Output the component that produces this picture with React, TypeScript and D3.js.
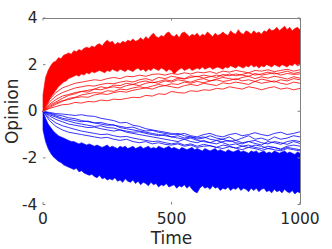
import React from 'react';
import * as d3 from 'd3';

const timeTicks = [0, 500, 1000];
const opinionTicks = [-4, -2, 0, 2, 4];

// envelope of the dense bundles, sampled every 10 time steps
const bandTime = d3.range(0, 1001, 10);

const redOuter = [
	0.7, 1.45, 1.75, 1.95, 2.1, 2.15, 2.3, 2.25, 2.4, 2.45, 2.5, 2.45, 2.6, 2.55, 2.65, 2.6, 2.7, 2.75, 2.7, 2.8,
	2.75, 2.85, 2.9, 2.8, 2.95, 3.05, 2.95, 3.0, 2.85, 2.95, 2.9, 3.0, 2.95, 3.05, 3.0, 3.1, 3.0, 3.05, 3.15, 3.05,
	3.2, 3.1, 3.25, 3.35, 3.2, 3.15, 3.25, 3.2, 3.35, 3.4, 3.25, 3.2, 3.3, 3.15, 3.35, 3.4, 3.3, 3.2, 3.3, 3.25,
	3.35, 3.2, 3.3, 3.25, 3.4, 3.3, 3.2, 3.35, 3.25, 3.3, 3.4, 3.3, 3.25, 3.45, 3.35, 3.3, 3.5, 3.35, 3.3, 3.45,
	3.4, 3.3, 3.45, 3.35, 3.4, 3.3, 3.45, 3.4, 3.55, 3.45, 3.5, 3.6, 3.45, 3.55, 3.65, 3.5, 3.6, 3.45, 3.55, 3.6,
	3.5
];
const redInner = [
	0, 0.2, 0.4, 0.6, 0.75, 0.9, 1.05, 1.15, 1.25, 1.3, 1.4, 1.45, 1.5, 1.55, 1.5, 1.6, 1.55, 1.65, 1.6, 1.7,
	1.65, 1.7, 1.75, 1.7, 1.65, 1.75, 1.7, 1.8, 1.75, 1.7, 1.8, 1.75, 1.7, 1.8, 1.75, 1.7, 1.8, 1.85, 1.75, 1.8,
	1.7, 1.8, 1.75, 1.85, 1.8, 1.75, 1.85, 1.8, 1.7, 1.8, 1.75, 1.6, 1.7, 1.8, 1.85, 1.75, 1.8, 1.85, 1.75, 1.8,
	1.85, 1.8, 1.9, 1.8, 1.85, 1.9, 1.8, 1.85, 1.9, 1.85, 1.8, 1.9, 1.85, 1.95, 1.9, 1.85, 1.95, 1.9, 1.85, 1.95,
	1.9, 2.0, 1.9, 1.95, 1.85, 1.95, 1.9, 2.0, 1.95, 1.9, 2.0, 1.95, 1.9, 2.0, 1.95, 1.9, 2.0, 1.95, 2.05, 1.95,
	2.0
];
const blueOuter = [
	-0.8, -1.3, -1.6, -1.8, -1.95, -2.05, -2.15, -2.2, -2.3, -2.35, -2.4, -2.45, -2.5, -2.45, -2.6, -2.55, -2.65, -2.7, -2.75, -2.7,
	-2.8, -2.85, -2.75, -2.9, -2.85, -2.95, -2.9, -2.95, -2.85, -3.0, -2.95, -3.05, -2.9, -3.0, -3.05, -2.95, -3.1, -3.0, -3.15, -3.05,
	-3.1, -3.2, -3.05, -3.15, -3.1, -3.25, -3.15, -3.2, -3.1, -3.25, -3.2, -3.15, -3.3, -3.2, -3.25, -3.15, -3.3, -3.2, -3.35, -3.45,
	-3.5, -3.3, -3.2, -3.3, -3.25, -3.35, -3.2, -3.3, -3.25, -3.4, -3.3, -3.35, -3.25, -3.4, -3.3, -3.35, -3.25, -3.4, -3.3, -3.35,
	-3.45, -3.3, -3.4, -3.3, -3.45, -3.35, -3.3, -3.45, -3.4, -3.5, -3.35, -3.45, -3.4, -3.5, -3.35, -3.45, -3.5, -3.4, -3.55, -3.45,
	-3.5
];
const blueInner = [
	0, -0.3, -0.55, -0.7, -0.85, -0.95, -1.05, -1.1, -1.15, -1.2, -1.25, -1.3, -1.3, -1.35, -1.4, -1.35, -1.4, -1.45, -1.4, -1.45,
	-1.5, -1.45, -1.5, -1.55, -1.5, -1.45, -1.55, -1.5, -1.55, -1.6, -1.5, -1.55, -1.5, -1.6, -1.55, -1.5, -1.6, -1.55, -1.5, -1.6,
	-1.55, -1.5, -1.6, -1.55, -1.6, -1.5, -1.55, -1.6, -1.55, -1.5, -1.6, -1.55, -1.6, -1.65, -1.55, -1.6, -1.65, -1.6, -1.55, -1.65,
	-1.6, -1.65, -1.7, -1.6, -1.65, -1.7, -1.65, -1.6, -1.7, -1.65, -1.7, -1.75, -1.65, -1.7, -1.75, -1.7, -1.65, -1.75, -1.7, -1.75,
	-1.8, -1.7, -1.75, -1.7, -1.8, -1.75, -1.7, -1.8, -1.75, -1.8, -1.7, -1.75, -1.8, -1.75, -1.7, -1.8, -1.75, -1.8, -1.85, -1.75,
	-1.8
];

// slow agents outside the bundles, sampled every 25 time steps
const lineTime = d3.range(0, 1001, 25);

const redStragglers = [
	[0, 0.12, 0.2, 0.28, 0.3, 0.38, 0.35, 0.42, 0.4, 0.48, 0.45, 0.52, 0.5, 0.55, 0.6, 0.58, 0.68, 0.65, 0.75, 0.72, 0.85, 0.8, 0.78, 0.88, 0.85, 0.92, 0.9, 0.98, 0.95, 1.05, 1.0, 0.95, 1.05, 1.0, 0.92, 1.0, 1.05, 0.95, 1.0, 0.92, 0.98],
	[0, 0.2, 0.35, 0.45, 0.5, 0.58, 0.62, 0.6, 0.7, 0.75, 0.72, 0.8, 0.85, 0.82, 0.9, 0.95, 1.0, 0.95, 1.05, 1.1, 1.05, 1.0, 1.1, 1.15, 1.1, 1.2, 1.15, 1.1, 1.22, 1.18, 1.25, 1.2, 1.15, 1.28, 1.2, 1.25, 1.3, 1.2, 1.15, 1.25, 1.2],
	[0, 0.3, 0.5, 0.65, 0.72, 0.8, 0.85, 0.9, 0.95, 0.92, 1.0, 1.05, 1.0, 1.1, 1.15, 1.1, 1.2, 1.25, 1.2, 1.3, 1.25, 1.35, 1.3, 1.25, 1.35, 1.4, 1.3, 1.38, 1.45, 1.4, 1.35, 1.45, 1.5, 1.4, 1.48, 1.42, 1.5, 1.45, 1.38, 1.48, 1.42],
	[0, 0.4, 0.65, 0.8, 0.9, 1.0, 1.05, 1.1, 1.08, 1.15, 1.2, 1.18, 1.25, 1.3, 1.25, 1.35, 1.4, 1.32, 1.45, 1.4, 1.5, 1.45, 1.4, 1.52, 1.48, 1.55, 1.5, 1.45, 1.58, 1.52, 1.6, 1.55, 1.5, 1.62, 1.55, 1.6, 1.65, 1.55, 1.62, 1.58, 1.6],
	[0, 0.25, 0.4, 0.55, 0.68, 0.75, 0.85, 0.82, 0.95, 1.05, 1.0, 1.12, 1.1, 1.2, 1.15, 1.25, 1.3, 1.22, 1.28, 1.35, 1.3, 1.42, 1.38, 1.45, 1.5, 1.42, 1.48, 1.55, 1.5, 1.6, 1.52, 1.58, 1.65, 1.55, 1.6, 1.68, 1.6, 1.65, 1.72, 1.62, 1.68],
	[0, 0.15, 0.3, 0.42, 0.55, 0.6, 0.7, 0.75, 0.8, 0.78, 0.88, 0.85, 0.95, 0.92, 1.0, 1.05, 1.0, 1.08, 1.15, 1.1, 1.18, 1.15, 1.25, 1.2, 1.28, 1.22, 1.3, 1.35, 1.28, 1.32, 1.4, 1.3, 1.35, 1.28, 1.38, 1.32, 1.25, 1.35, 1.3, 1.4, 1.35],
	[0, 0.5, 0.8, 1.0, 1.1, 1.2, 1.25, 1.3, 1.35, 1.32, 1.4, 1.45, 1.4, 1.5, 1.48, 1.55, 1.5, 1.58, 1.6, 1.55, 1.62, 1.58, 1.65, 1.6, 1.68, 1.65, 1.7, 1.62, 1.72, 1.68, 1.75, 1.7, 1.65, 1.75, 1.72, 1.78, 1.7, 1.75, 1.8, 1.72, 1.78]
];

const blueStragglers = [
	[0, -0.05, -0.1, -0.12, -0.15, -0.18, -0.15, -0.2, -0.22, -0.3, -0.35, -0.4, -0.5, -0.48, -0.6, -0.65, -0.75, -0.8, -0.85, -0.9, -0.95, -1.0, -0.95, -1.05, -1.1, -1.0, -0.95, -1.05, -1.1, -1.0, -0.95, -1.05, -1.0, -0.92, -1.0, -1.05, -0.95, -0.9, -1.0, -0.95, -0.88],
	[0, -0.1, -0.2, -0.3, -0.35, -0.4, -0.45, -0.42, -0.5, -0.55, -0.6, -0.58, -0.7, -0.75, -0.8, -0.85, -0.9, -0.95, -1.0, -1.05, -1.1, -1.05, -1.15, -1.1, -1.2, -1.15, -1.05, -1.15, -1.2, -1.1, -1.25, -1.15, -1.05, -1.2, -1.15, -1.25, -1.1, -1.2, -1.15, -1.05, -1.1],
	[0, -0.2, -0.35, -0.45, -0.55, -0.6, -0.65, -0.7, -0.68, -0.75, -0.8, -0.85, -0.8, -0.9, -0.95, -1.0, -1.05, -1.1, -1.15, -1.2, -1.25, -1.3, -1.2, -1.3, -1.35, -1.25, -1.35, -1.4, -1.3, -1.25, -1.35, -1.4, -1.3, -1.38, -1.45, -1.3, -1.35, -1.42, -1.3, -1.25, -1.3],
	[0, -0.3, -0.5, -0.62, -0.7, -0.78, -0.85, -0.9, -0.95, -1.0, -0.98, -1.05, -1.1, -1.08, -1.15, -1.2, -1.25, -1.3, -1.28, -1.35, -1.4, -1.35, -1.45, -1.4, -1.5, -1.42, -1.48, -1.55, -1.45, -1.5, -1.58, -1.5, -1.45, -1.55, -1.6, -1.5, -1.55, -1.62, -1.5, -1.45, -1.5],
	[0, -0.15, -0.25, -0.35, -0.42, -0.5, -0.55, -0.6, -0.65, -0.62, -0.7, -0.72, -0.8, -0.85, -0.9, -0.88, -0.95, -1.0, -1.05, -1.0, -1.1, -1.15, -1.2, -1.15, -1.25, -1.3, -1.35, -1.25, -1.35, -1.45, -1.4, -1.5, -1.55, -1.45, -1.5, -1.6, -1.55, -1.65, -1.55, -1.6, -1.65],
	[0, -0.4, -0.65, -0.8, -0.9, -0.95, -1.0, -1.05, -1.1, -1.15, -1.12, -1.2, -1.25, -1.2, -1.3, -1.35, -1.3, -1.4, -1.35, -1.42, -1.45, -1.4, -1.5, -1.45, -1.55, -1.5, -1.48, -1.55, -1.6, -1.52, -1.58, -1.65, -1.55, -1.6, -1.68, -1.6, -1.65, -1.7, -1.6, -1.65, -1.7],
	[0, -0.08, -0.15, -0.2, -0.28, -0.32, -0.4, -0.45, -0.5, -0.48, -0.55, -0.6, -0.65, -0.7, -0.68, -0.78, -0.85, -0.82, -0.9, -0.95, -1.0, -0.95, -1.05, -1.1, -1.15, -1.1, -1.2, -1.25, -1.2, -1.3, -1.25, -1.35, -1.3, -1.25, -1.35, -1.4, -1.3, -1.35, -1.42, -1.3, -1.38]
];

const width = 332,
	height = 249,
	left = 43,
	right = 300,
	top = 18,
	bottom = 204.5,
	tickLen = 2.5,
	axisColour = '#808080',
	textColour = '#262626',
	font = '"DejaVu Sans", sans-serif';

const App = () => {
	const x = d3.scaleLinear().domain( [ 0, 1000 ] ).range( [ left, right ] ),
		y = d3.scaleLinear().domain( [ -4, 4 ] ).range( [ bottom, top ] ),
		band = d3
			.area<number>()
			.x( ( d ) => x( d ) ),
		line = d3
			.line<number>()
			.x( ( d, i ) => x( lineTime[ i ] ) )
			.y( ( d ) => y( d ) );

	const bandPath = ( inner: number[], outer: number[] ) =>
		band.y0( ( d, i ) => y( inner[ i ] ) ).y1( ( d, i ) => y( outer[ i ] ) )( bandTime ) || '';

	return (
		<svg width={width} height={height} style={{ position: 'absolute', left: 0, top: 0, background: '#fff' }}>
			<g>
				{blueStragglers.map( ( s, i ) => (
					<path key={'b' + i} d={line( s ) || ''} fill="none" stroke="#0000ff" strokeWidth={0.8} />
				) )}
				<path d={bandPath( blueInner, blueOuter )} fill="#0000ff" stroke="#0000ff" strokeWidth={0.6} />
				{redStragglers.map( ( s, i ) => (
					<path key={'r' + i} d={line( s ) || ''} fill="none" stroke="#ff0000" strokeWidth={0.8} />
				) )}
				<path d={bandPath( redInner, redOuter )} fill="#ff0000" stroke="#ff0000" strokeWidth={0.6} />
			</g>

			<g stroke={axisColour} strokeWidth={1} fill="none">
				<line x1={left} x2={right + 0.5} y1={top + 0.5} y2={top + 0.5} />
				<line x1={right + 0.5} x2={right + 0.5} y1={top} y2={bottom} />
				{timeTicks.map( ( t ) => (
					<g key={'tt' + t}>
						<line x1={x( t )} x2={x( t )} y1={top} y2={top + tickLen} />
						<line x1={x( t )} x2={x( t )} y1={bottom} y2={bottom - tickLen} />
					</g>
				) )}
				{opinionTicks.map( ( v ) => (
					<g key={'ot' + v}>
						<line x1={left} x2={left + tickLen} y1={y( v )} y2={y( v )} />
						<line x1={right} x2={right - tickLen} y1={y( v )} y2={y( v )} />
					</g>
				) )}
			</g>

			<g fill={textColour} fontFamily={font} fontSize={15.5}>
				{timeTicks.map( ( t ) => (
					<text key={'xl' + t} x={x( t )} y={224} textAnchor="middle">
						{t}
					</text>
				) )}
				{opinionTicks.map( ( v ) => (
					<text key={'yl' + v} x={37.5} y={y( v )} textAnchor="end" dominantBaseline="central">
						{v < 0 ? '-' + Math.abs( v ) : v}
					</text>
				) )}
			</g>
			<text x={x( 500 )} y={244} textAnchor="middle" fill={textColour} fontFamily={font} fontSize={17}>
				Time
			</text>
			<text
				transform={`translate(17.5 ${y( 0 )}) rotate(-90)`}
				textAnchor="middle"
				fill={textColour}
				fontFamily={font}
				fontSize={17}
			>
				Opinion
			</text>
		</svg>
	);
};

export default App;
